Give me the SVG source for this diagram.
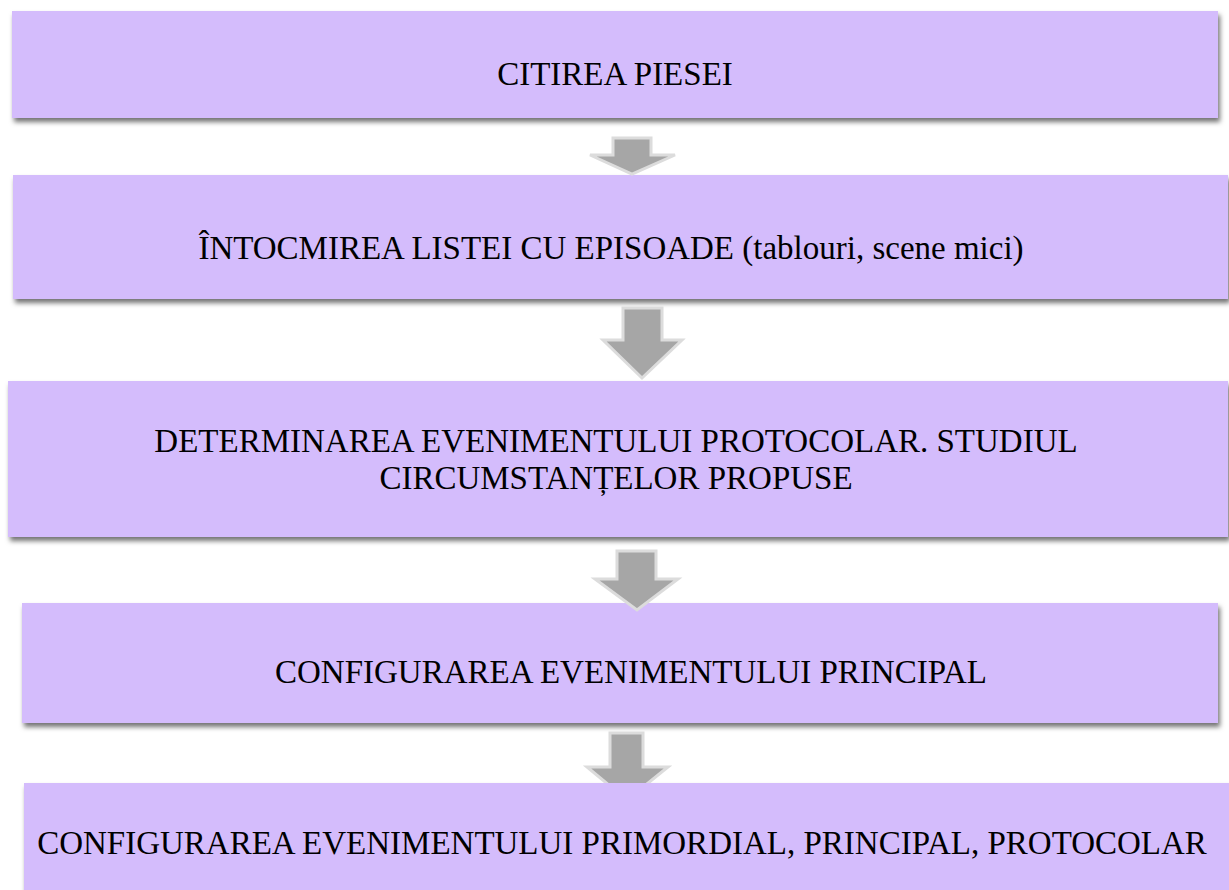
<svg xmlns="http://www.w3.org/2000/svg" width="1229" height="890" viewBox="0 0 1229 890">
<defs>
<filter id="sh" x="-5%" y="-20%" width="110%" height="150%">
<feDropShadow dx="2" dy="4" stdDeviation="2.5" flood-color="#000" flood-opacity="0.55"/>
</filter>
<clipPath id="c4"><rect x="0" y="700" width="1229" height="83"/></clipPath>
<style>
.box{fill:#d4bcfc;filter:url(#sh);}
.lbl{font-family:"Liberation Serif","Times New Roman",serif;font-size:33px;fill:#000;text-anchor:middle;}
.arr{fill:#a6a6a6;stroke:#dcdcdc;stroke-width:3;stroke-linejoin:miter;}
</style>
</defs>
<rect width="1229" height="890" fill="#fff"/>
<g id="n1"><rect class="box" x="12" y="11" width="1206" height="107"/><text class="lbl" x="615" y="85">CITIREA PIESEI</text></g>
<g id="n2"><rect class="box" x="13" y="175" width="1215" height="124"/><text class="lbl" x="611" y="259">ÎNTOCMIREA LISTEI CU EPISOADE (tablouri, scene mici)</text></g>
<g id="n3"><rect class="box" x="8" y="381" width="1220" height="156"/><text class="lbl" x="616" y="452">DETERMINAREA EVENIMENTULUI PROTOCOLAR. STUDIUL</text><text class="lbl" x="616" y="489">CIRCUMSTANȚELOR PROPUSE</text></g>
<g id="n4"><rect class="box" x="22" y="603" width="1196" height="120"/><text class="lbl" x="631" y="683">CONFIGURAREA EVENIMENTULUI PRINCIPAL</text></g>
<g id="n5"><rect class="box" x="24" y="783" width="1215" height="120"/><text class="lbl" x="622" y="854">CONFIGURAREA EVENIMENTULUI PRIMORDIAL, PRINCIPAL, PROTOCOLAR</text></g>
<g id="connectors">
<path class="arr" d="M613,138 H651 V155 H675 L632,174 L590,155 H613 Z"/>
<path class="arr" d="M623,308 H662 V340 H682 L642,378 L603,340 H623 Z"/>
<path class="arr" d="M617,551 H656 V579 H678 L637,610 L595,579 H617 Z"/>
<path class="arr" clip-path="url(#c4)" d="M610,733 H643 V767 H668 L627,800 L587,767 H610 Z"/>
</g>
</svg>
